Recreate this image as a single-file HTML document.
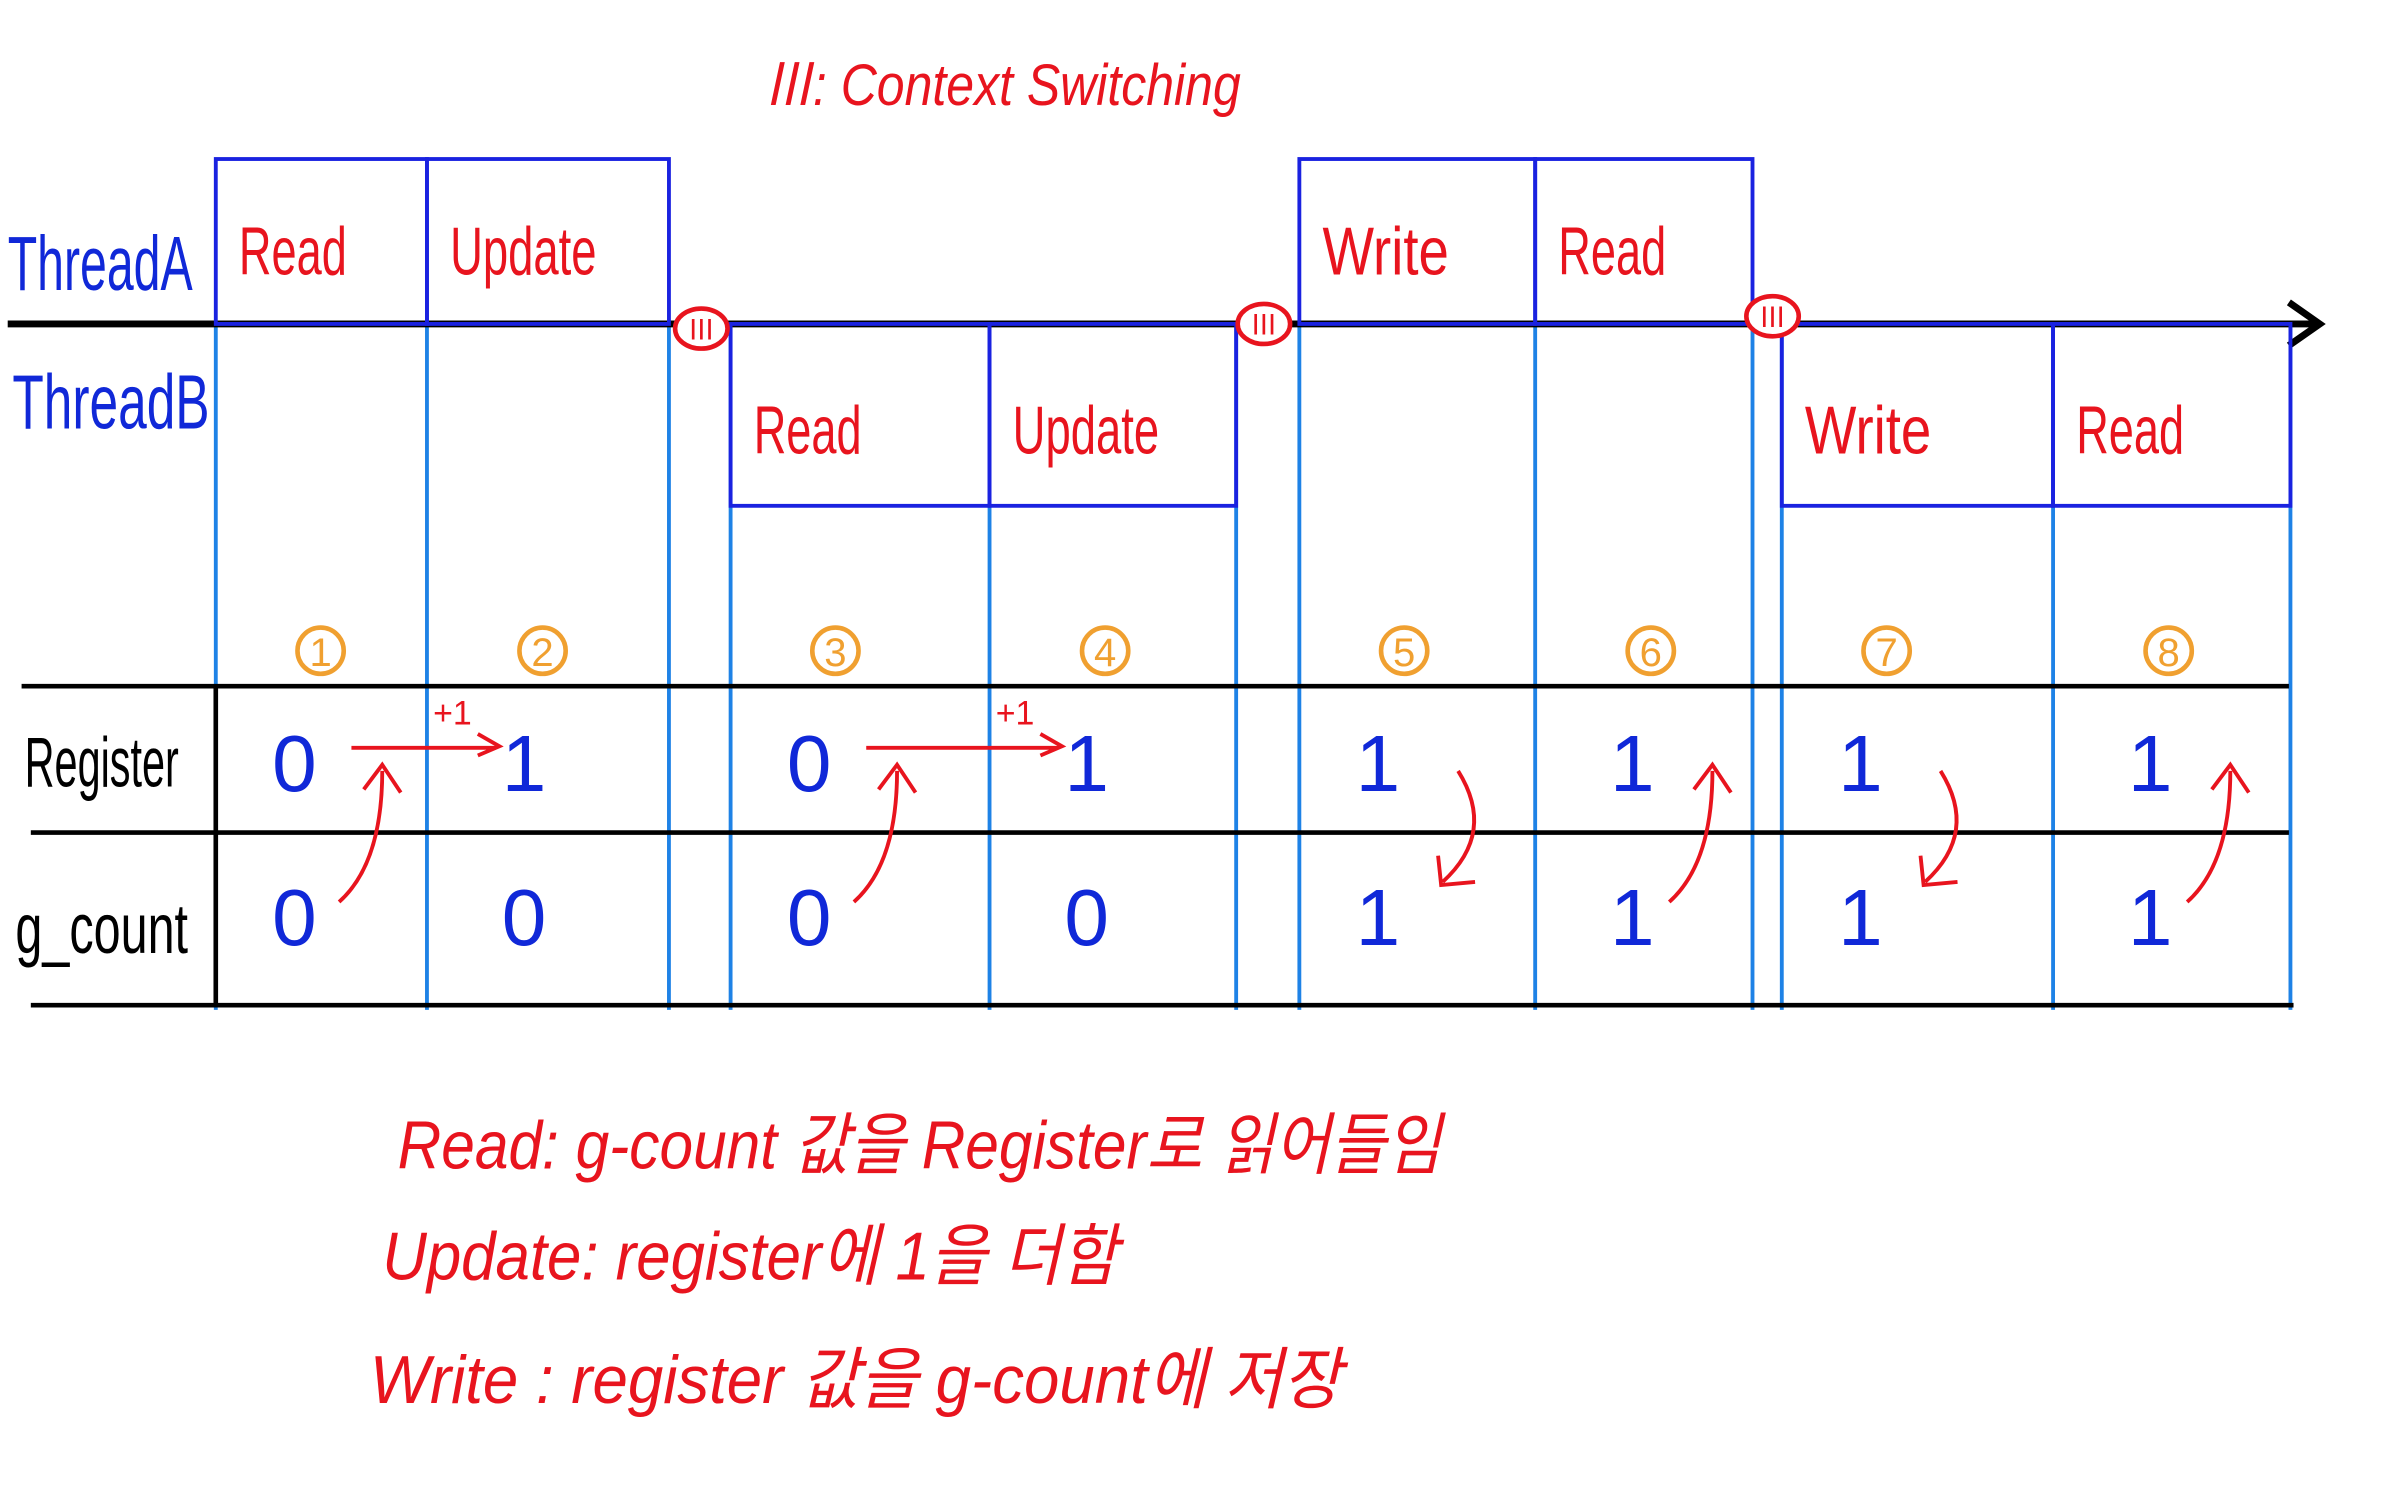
<!DOCTYPE html>
<html><head><meta charset="utf-8"><style>
html,body{margin:0;padding:0;background:#fff;}
svg{display:block;}
text{font-family:"Liberation Sans","Noto Sans CJK KR",sans-serif;}
</style></head><body>
<svg id="chart" width="2386" height="1491" viewBox="0 0 1548 967" xmlns="http://www.w3.org/2000/svg">
<g id="static">
<text x="495" y="68" fill="#e8141e" font-size="38" font-style="italic" textLength="310" lengthAdjust="spacingAndGlyphs">Ⅲ: Context Switching</text>
<text x="5" y="188" fill="#1028d8" font-size="50" textLength="120" lengthAdjust="spacingAndGlyphs">ThreadA</text>
<text x="8" y="278" fill="#1028d8" font-size="50" textLength="128" lengthAdjust="spacingAndGlyphs">ThreadB</text>
<text x="16" y="510" fill="#000" font-size="46" textLength="100" lengthAdjust="spacingAndGlyphs">Register</text>
<text x="10" y="618" fill="#000" font-size="46" textLength="112" lengthAdjust="spacingAndGlyphs">g_count</text>
</g>
<g id="grid"></g>
<g id="marks"></g>
<g id="legend-text">
<text x="258" y="758" fill="#e8141e" font-size="44" font-style="italic" textLength="677" lengthAdjust="spacingAndGlyphs">Read: g-count 값을 Register로 읽어들임</text>
<text x="248" y="830" fill="#e8141e" font-size="44" font-style="italic" textLength="477" lengthAdjust="spacingAndGlyphs">Update: register에 1을 더함</text>
<text x="240" y="910" fill="#e8141e" font-size="44" font-style="italic" textLength="630" lengthAdjust="spacingAndGlyphs">Write : register 값을 g-count에 저장</text>
</g>
</svg>
<script>
const steps = ['1','2','3','4','5','6','7','8'];
const ops = ['Read','Update','Read','Update','Write','Read','Write','Read'];
const threads = ['A','A','B','B','A','A','B','B'];
const registerVals = [0,1,0,1,1,1,1,1];
const gCountVals = [0,0,0,0,1,1,1,1];
const colLeft = [140,277,474,642,843,996,1156,1332];
const colRight = [277,434,642,802,996,1137,1332,1486];
const NS='http://www.w3.org/2000/svg';
function mk(tag,attrs,parent,txt){const e=document.createElementNS(NS,tag);for(const k in attrs)e.setAttribute(k,attrs[k]);if(txt!==undefined)e.textContent=txt;parent.appendChild(e);return e;}
const grid=document.getElementById('grid'), marks=document.getElementById('marks');
const vx=[140,277,434,474,642,802,843,996,1137,1156,1332,1486];
vx.forEach((x,i)=>{const l=mk('line',{x1:x,y1:210,x2:x,y2:655,stroke:'#1e82e6','stroke-width':2.5},grid);

});
[[14,445,1485],[20,540,1485],[20,652,1488]].forEach(h=>{const l=mk('line',{x1:h[0],y1:h[1],x2:h[2],y2:h[1],stroke:'#000','stroke-width':3},grid);

});
const vb=mk('line',{x1:140,y1:445,x2:140,y2:652,stroke:'#000','stroke-width':3},grid);


const ax=mk('path',{d:'M5 210 H1503 M1485 196 L1505 210 L1485 224',stroke:'#000','stroke-width':4.5,fill:'none'},grid);


for(let i=0;i<steps.length;i++){
  const isA=threads[i]==='A';
  const y0=isA?103:210, y1=isA?210:328;
  const r=mk('rect',{x:colLeft[i],y:y0,width:colRight[i]-colLeft[i],height:y1-y0,fill:'none',stroke:'#1a22e0','stroke-width':2.5},marks);
  
  
  const cx=colLeft[i]+15;
  const tl=ops[i]==='Update'?95:(ops[i]==='Write'?82:70);
  const t=mk('text',{x:cx,y:isA?178:294,fill:'#e8141e','font-size':44,textLength:tl,lengthAdjust:'spacingAndGlyphs'},marks,ops[i]);
  
  
  const px=i%2? colLeft[i]+75 : colLeft[i]+68;
  const c=mk('circle',{cx:px,cy:422,r:15,fill:'none',stroke:'#f0a030','stroke-width':3},marks);
  
  
  const ct=mk('text',{x:px,y:432,fill:'#f0a030','font-size':26,'text-anchor':'middle'},marks,steps[i]);
  
  
  const rv=mk('text',{x:px-12+(i%2?0:-5),y:513,fill:'#1028d8','font-size':52,'text-anchor':'middle'},marks,String(registerVals[i]));
  
  
  const gv=mk('text',{x:px-12+(i%2?0:-5),y:613,fill:'#1028d8','font-size':52,'text-anchor':'middle'},marks,String(gCountVals[i]));
  
  
  let d='';
  if(ops[i]==='Read') d=`M${px+12} 585 Q${px+40} 560 ${px+40} 500 M${px+28} 512 L${px+40} 496 L${px+52} 514`;
  if(ops[i]==='Update') d=`M${colLeft[i-1]+88} 485 H${px-30} M${px-42} 476 L${px-28} 484 L${px-42} 490`;
  if(ops[i]==='Write') d=`M${px+35} 500 Q${px+60} 540 ${px+25} 572 M${px+22} 555 L${px+24} 574 L${px+46} 572`;
  if(d){const a=mk('path',{d:d,stroke:'#e8141e','stroke-width':2.5,fill:'none'},marks);
    
    }
  if(ops[i]==='Update'){const p=mk('text',{x:colLeft[i]+4,y:470,fill:'#e8141e','font-size':22},marks,'+1');
    
    }
}
[[455,213],[820,210],[1150,205]].forEach(p=>{const c=mk('ellipse',{cx:p[0],cy:p[1],rx:17,ry:13,fill:'#fff',stroke:'#e8141e','stroke-width':3},marks);


const t=mk('text',{x:p[0],y:p[1]+7,fill:'#e8141e','font-size':18,'text-anchor':'middle'},marks,'Ⅲ');

});
</script>
</body></html>
